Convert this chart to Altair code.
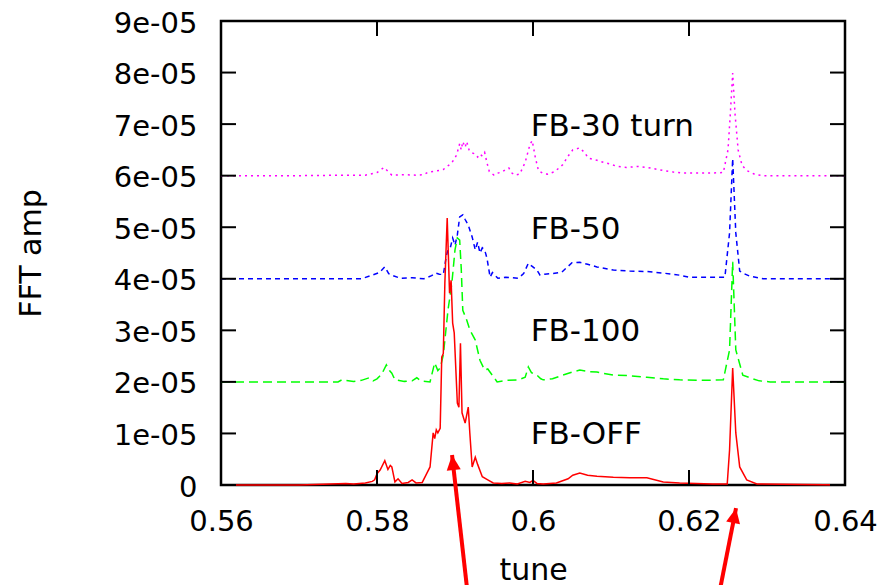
import altair as alt
import pandas as pd

# ---------------- data (amplitudes in units of 1e-05) ----------------
fb30_tune = [0.5600, 0.5700, 0.5760, 0.5785, 0.5800, 0.5809, 0.5819, 0.5835, 0.5850, 0.5860,
             0.5866, 0.5876, 0.5885, 0.5896, 0.5902, 0.5906, 0.5908, 0.5910, 0.5913, 0.5915,
             0.5918, 0.5922, 0.5926, 0.5929, 0.5932, 0.5935, 0.5938, 0.5941, 0.5944, 0.5950,
             0.5955, 0.5960, 0.5965, 0.5969, 0.5973, 0.5977, 0.5983, 0.5990, 0.5996, 0.5999,
             0.6003, 0.6007, 0.6013, 0.6019, 0.6028, 0.6038, 0.6045, 0.6051, 0.6060, 0.6066,
             0.6071, 0.6082, 0.6090, 0.6100, 0.6108, 0.6120, 0.6135, 0.6146, 0.6160, 0.6167,
             0.6180, 0.6192, 0.6210, 0.6227, 0.6244, 0.6250, 0.6253, 0.6256, 0.6259, 0.6263,
             0.6268, 0.6274, 0.6285, 0.6295, 0.6400]
fb30_amp = [6.00, 6.00, 6.01, 6.01, 6.06, 6.16, 6.01, 6.02, 6.01, 6.02,
            6.07, 6.09, 6.12, 6.25, 6.40, 6.62, 6.50, 6.66, 6.55, 6.66,
            6.50, 6.44, 6.42, 6.36, 6.42, 6.38, 6.45, 6.25, 6.08, 6.01,
            6.05, 6.07, 6.12, 6.15, 6.05, 6.01, 6.03, 6.26, 6.60, 6.68,
            6.35, 6.10, 6.04, 6.03, 6.08, 6.21, 6.38, 6.50, 6.54, 6.45,
            6.34, 6.30, 6.26, 6.22, 6.18, 6.16, 6.18, 6.16, 6.12, 6.10,
            6.07, 6.05, 6.05, 6.05, 6.06, 6.50, 7.20, 7.99, 7.20, 6.50,
            6.20, 6.10, 6.02, 6.00, 6.00]

fb50_tune = [0.5600, 0.5780, 0.5794, 0.5803, 0.5810, 0.5815, 0.5819, 0.5830, 0.5845, 0.5860,
             0.5870, 0.5875, 0.5880, 0.5885, 0.5889, 0.5891, 0.5894, 0.5897, 0.5900, 0.5903,
             0.5906, 0.5910, 0.5913, 0.5917, 0.5920, 0.5922, 0.5926, 0.5929, 0.5932, 0.5935,
             0.5938, 0.5941, 0.5945, 0.5948, 0.5955, 0.5965, 0.5981, 0.5988, 0.5994, 0.5999,
             0.6005, 0.6009, 0.6015, 0.6025, 0.6037, 0.6050, 0.6060, 0.6070, 0.6082, 0.6103,
             0.6124, 0.6146, 0.6167, 0.6188, 0.6201, 0.6231, 0.6246, 0.6252, 0.6256, 0.6260,
             0.6265, 0.6269, 0.6278, 0.6295, 0.6400]
fb50_amp = [4.00, 4.00, 4.07, 4.12, 4.23, 4.10, 4.07, 4.01, 4.02, 4.00,
            4.06, 4.11, 4.09, 4.08, 4.45, 4.56, 4.60, 4.79, 4.65, 4.85,
            5.20, 5.24, 5.15, 5.04, 4.90, 4.81, 4.56, 4.71, 4.50, 4.60,
            4.56, 4.40, 4.03, 4.12, 4.01, 4.03, 4.01, 4.10, 4.30, 4.24,
            4.17, 4.07, 4.09, 4.10, 4.13, 4.31, 4.32, 4.28, 4.23, 4.17,
            4.15, 4.14, 4.11, 4.07, 4.03, 4.03, 4.03, 4.89, 6.33, 4.89,
            4.15, 4.11, 4.05, 4.00, 4.00]

fb100_tune = [0.5600, 0.5750, 0.5755, 0.5770, 0.5780, 0.5790, 0.5795, 0.5800, 0.5806, 0.5812,
              0.5816, 0.5819, 0.5823, 0.5835, 0.5845, 0.5851, 0.5856, 0.5868, 0.5874, 0.5878,
              0.5881, 0.5885, 0.5891, 0.5896, 0.5900, 0.5903, 0.5906, 0.5908, 0.5910, 0.5915,
              0.5919, 0.5926, 0.5932, 0.5938, 0.5942, 0.5954, 0.5965, 0.5981, 0.5990, 0.5994,
              0.5998, 0.6005, 0.6010, 0.6013, 0.6025, 0.6038, 0.6050, 0.6060, 0.6071, 0.6082,
              0.6103, 0.6124, 0.6146, 0.6167, 0.6188, 0.6220, 0.6244, 0.6252, 0.6256, 0.6260,
              0.6269, 0.6278, 0.6290, 0.6304, 0.6400]
fb100_amp = [2.00, 2.00, 2.04, 2.01, 2.03, 2.08, 2.02, 2.06, 2.15, 2.33,
             2.22, 2.17, 2.04, 2.01, 2.02, 2.08, 2.02, 2.00, 2.37, 2.22,
             2.27, 2.52, 3.39, 3.92, 4.56, 4.79, 4.75, 4.20, 3.39, 3.20,
             3.01, 2.81, 2.42, 2.23, 2.25, 2.00, 2.03, 2.04, 2.09, 2.29,
             2.18, 2.13, 2.06, 2.04, 2.06, 2.13, 2.19, 2.23, 2.20, 2.19,
             2.13, 2.12, 2.09, 2.06, 2.04, 2.03, 2.04, 2.62, 4.33, 2.62,
             2.13, 2.08, 2.02, 2.00, 2.00]

fboff_tune = [0.5600, 0.5700, 0.5740, 0.5760, 0.5770, 0.5785, 0.5794, 0.5797, 0.5800, 0.5804,
              0.5810, 0.5814, 0.5817, 0.5819, 0.5823, 0.5827, 0.5832, 0.5840, 0.5845, 0.5850,
              0.5858, 0.5864, 0.5868, 0.5872, 0.5874, 0.5876, 0.5878, 0.5881, 0.5883, 0.5885,
              0.5887, 0.5890, 0.5893, 0.5895, 0.5897, 0.5899, 0.5903, 0.5905, 0.5907, 0.5909,
              0.5913, 0.5917, 0.5919, 0.5922, 0.5926, 0.5929, 0.5935, 0.5942, 0.5949, 0.5960,
              0.5970, 0.5980, 0.5990, 0.5996, 0.6000, 0.6005, 0.6013, 0.6030, 0.6045, 0.6051,
              0.6060, 0.6070, 0.6082, 0.6103, 0.6124, 0.6146, 0.6167, 0.6188, 0.6230, 0.6249,
              0.6252, 0.6256, 0.6260, 0.6265, 0.6274, 0.6287, 0.6400]
fboff_amp = [0.00, 0.00, 0.02, 0.03, 0.02, 0.04, 0.07, 0.10, 0.22, 0.29,
             0.47, 0.30, 0.38, 0.35, 0.06, 0.12, 0.03, 0.05, 0.10, 0.04,
             0.05, 0.23, 0.35, 1.01, 0.90, 1.07, 1.01, 1.10, 2.48, 2.55,
             3.92, 5.18, 3.72, 3.97, 3.14, 2.95, 1.59, 1.51, 2.75, 1.40,
             1.20, 1.51, 1.01, 0.35, 0.54, 0.40, 0.16, 0.10, 0.04, 0.03,
             0.04, 0.02, 0.07, 0.05, 0.09, 0.03, 0.02, 0.04, 0.12, 0.19,
             0.23, 0.19, 0.17, 0.15, 0.14, 0.14, 0.06, 0.04, 0.02, 0.02,
             0.68, 2.27, 1.01, 0.35, 0.10, 0.02, 0.00]

label_text = ["FB-30 turn", "FB-50", "FB-100", "FB-OFF"]
label_tune = [0.5997, 0.5997, 0.5997, 0.5997]
label_amp = [6.95, 4.95, 2.97, 0.97]

x_ticks = [0.56, 0.58, 0.60, 0.62, 0.64]
y_ticks_e5 = [0, 1, 2, 3, 4, 5, 6, 7, 8, 9]

# annotation arrows (tip and tail in data units, amplitude in 1e-05)
arrow_tip_tune = [0.58962, 0.62603]
arrow_tip_amp = [0.58, -0.45]
arrow_tail_tune = [0.59163, 0.62385]
arrow_tail_amp = [-2.12, -2.12]
arrow_angle = [353.5, 11.3]

# ---------------- build tables ----------------
series = [
    ("FB-30", fb30_tune, fb30_amp, "#ff00ff", [2, 4]),
    ("FB-50", fb50_tune, fb50_amp, "#0000ff", [5, 4]),
    ("FB-100", fb100_tune, fb100_amp, "#00ff00", [9, 5]),
    ("FB-OFF", fboff_tune, fboff_amp, "#ff0000", None),
]
rows = []
for key, t, a, _, _ in series:
    for ti, ai in zip(t, a):
        rows.append({"series": key, "tune": ti, "amp": ai * 1e-5})
df = pd.DataFrame(rows)

W, H = 624, 464
FONT = "DejaVu Sans"
xs = alt.Scale(domain=[0.56, 0.64], nice=False, zero=False)
ys = alt.Scale(domain=[0, 9e-5], nice=False, zero=False)

xaxis = alt.Axis(values=x_ticks, format=".2~f", labelFont=FONT, labelFontSize=29,
                 labelPadding=45, labelBaseline="alphabetic", labelFlush=False,
                 labelOverlap=False, ticks=False, tickSize=0, domain=False, grid=False,
                 labelColor="black", title="tune", titleFont=FONT, titleFontSize=30,
                 titleFontWeight="normal", titleColor="black", titleX=312, titleY=94,
                 titleAlign="center", titleBaseline="alphabetic")
yaxis = alt.Axis(values=[v * 1e-5 for v in y_ticks_e5],
                 labelExpr="datum.value == 0 ? '0' : round(datum.value*1e5) + 'e-05'",
                 labelFont=FONT, labelFontSize=29, labelPadding=24, labelOffset=2,
                 labelOverlap=False,
                 ticks=False, tickSize=0, domain=False, grid=False, labelColor="black",
                 title="FFT amp", titleFont=FONT, titleFontSize=30, titleFontWeight="normal",
                 titleColor="black", titleX=-181, titleY=232, titleAngle=270,
                 titleAlign="center", titleBaseline="alphabetic")


def X(field):
    return alt.X(field, scale=xs, axis=xaxis)


def Y(field):
    return alt.Y(field, scale=ys, axis=yaxis)


layers = []
for key, _, _, color, dash in series:
    kw = dict(color=color, strokeWidth=1.5)
    if dash is not None:
        kw["strokeDash"] = dash
    layers.append(
        alt.Chart(df).transform_filter(alt.datum.series == key).mark_line(**kw).encode(
            x=X("tune:Q"), y=Y("amp:Q"))
    )

# inward ticks on all four sides
ytick_df = pd.DataFrame({"tick": [v * 1e-5 for v in y_ticks_e5]})
xtick_df = pd.DataFrame({"tick": x_ticks})
TL = 15
tick_left = alt.Chart(ytick_df).mark_rule(color="black", strokeWidth=2).encode(
    y=Y("tick:Q"), x=alt.value(0), x2=alt.value(TL))
tick_right = alt.Chart(ytick_df).mark_rule(color="black", strokeWidth=2).encode(
    y=Y("tick:Q"), x=alt.value(W - TL), x2=alt.value(W))
tick_bottom = alt.Chart(xtick_df).mark_rule(color="black", strokeWidth=2).encode(
    x=X("tick:Q"), y=alt.value(H - TL), y2=alt.value(H))
tick_top = alt.Chart(xtick_df).mark_rule(color="black", strokeWidth=2).encode(
    x=X("tick:Q"), y=alt.value(0), y2=alt.value(TL))

lab_df = pd.DataFrame({"tune": label_tune, "amp": [v * 1e-5 for v in label_amp],
                       "text": label_text})
labels = alt.Chart(lab_df).mark_text(align="left", baseline="middle", font=FONT,
                                     fontSize=31, color="black").encode(
    x=X("tune:Q"), y=Y("amp:Q"), text="text:N")

arr_df = pd.DataFrame({
    "t0": arrow_tail_tune, "a0": [v * 1e-5 for v in arrow_tail_amp],
    "t1": arrow_tip_tune, "a1": [v * 1e-5 for v in arrow_tip_amp],
    "ang": arrow_angle,
})
arrow_lines = alt.Chart(arr_df).mark_rule(color="#ff0000", strokeWidth=4).encode(
    x=X("t0:Q"), y=Y("a0:Q"), x2="t1:Q", y2="a1:Q")
arrow_heads = alt.Chart(arr_df).mark_point(
    shape="M0,0L-0.47,1L0.47,1Z", filled=True, size=900, color="#ff0000", opacity=1,
    strokeWidth=0).encode(
    x=X("t1:Q"), y=Y("a1:Q"), angle=alt.Angle("ang:Q", scale=None))

chart = alt.layer(*layers, tick_left, tick_right, tick_bottom, tick_top, labels,
                  arrow_lines, arrow_heads).properties(
    width=W, height=H,
    autosize=alt.AutoSizeParams(type="none"),
    padding={"left": 213, "top": 13, "right": 36, "bottom": 100},
    background="white",
).configure_view(stroke="black", strokeWidth=2.5)

chart.save("out.html", embed_options={"renderer": "svg", "actions": False})
